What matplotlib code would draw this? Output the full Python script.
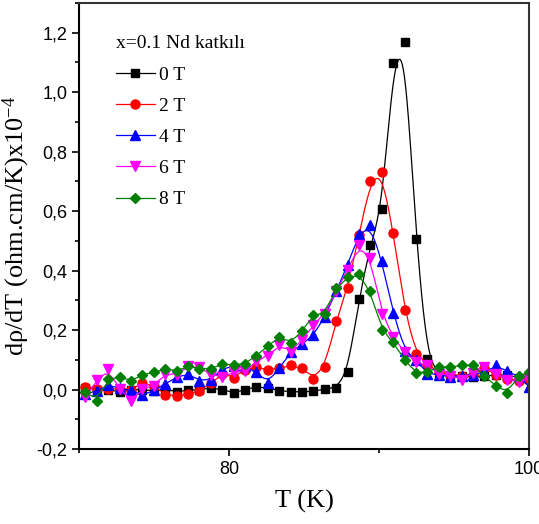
import numpy as np
import matplotlib
matplotlib.use("Agg")
import matplotlib.pyplot as plt
from matplotlib.lines import Line2D
from matplotlib.ticker import MultipleLocator, AutoMinorLocator, FuncFormatter

# ---------------- data ----------------
T = [70.43, 71.19, 71.95, 72.71, 73.47, 74.23, 74.99, 75.75, 76.51, 77.27,
     78.03, 78.79, 79.55, 80.31, 81.07, 81.83, 82.59, 83.35, 84.11, 84.87,
     85.63, 86.39, 87.15, 87.91, 88.67, 89.43, 90.19, 90.95, 91.71, 92.47,
     93.23, 93.99, 94.75, 95.51, 96.27, 97.03, 97.79, 98.55, 99.31, 100.0]

v0T = [0.005, 0.000, 0.000, -0.009, 0.000, 0.000, -0.005, 0.000, -0.007, -0.003,
       0.000, 0.005, 0.000, -0.012, 0.000, 0.010, 0.005, -0.004, -0.007, -0.008,
       -0.006, 0.002, 0.006, 0.058, 0.305, 0.487, 0.606, 1.099, 1.169, 0.505,
       0.102, 0.055, 0.050, 0.045, 0.042, 0.045, 0.050, 0.048, 0.040, 0.035]

v2T = [0.010, 0.003, 0.003, 0.002, 0.000, 0.022, 0.013, -0.017, -0.022, -0.015,
       -0.006, 0.022, 0.053, 0.040, 0.067, 0.075, 0.066, 0.072, 0.081, 0.072,
       0.037, 0.077, 0.232, 0.343, 0.520, 0.702, 0.732, 0.528, 0.268, 0.121,
       0.083, 0.060, 0.050, 0.047, 0.050, 0.073, 0.050, 0.036, 0.030, 0.035]

v4T = [-0.015, -0.005, 0.015, 0.005, -0.003, -0.020, -0.003, 0.019, 0.042, 0.053,
       0.030, 0.033, 0.070, 0.079, 0.078, 0.058, 0.022, 0.072, 0.125, 0.152,
       0.183, 0.245, 0.330, 0.420, 0.524, 0.552, 0.432, 0.258, 0.131, 0.098,
       0.053, 0.050, 0.042, 0.047, 0.050, 0.058, 0.081, 0.062, 0.044, 0.010]

v6T = [-0.026, 0.032, 0.068, 0.002, -0.040, 0.002, 0.013, 0.053, 0.050, 0.079,
       0.075, 0.050, 0.042, 0.058, 0.062, 0.095, 0.114, 0.150, 0.127, 0.166,
       0.218, 0.255, 0.330, 0.403, 0.485, 0.444, 0.255, 0.176, 0.125, 0.092,
       0.081, 0.053, 0.047, 0.033, 0.055, 0.077, 0.053, 0.033, 0.025, 0.036]

v8T = [-0.008, -0.037, 0.036, 0.043, 0.028, 0.050, 0.058, 0.070, 0.062, 0.079,
       0.070, 0.070, 0.086, 0.083, 0.087, 0.114, 0.146, 0.178, 0.156, 0.197,
       0.251, 0.255, 0.342, 0.377, 0.388, 0.330, 0.200, 0.159, 0.099, 0.055,
       0.058, 0.077, 0.075, 0.081, 0.084, 0.044, 0.013, -0.012, 0.047, 0.058]

labels = ["0 T", "2 T", "4 T", "6 T", "8 T"]
series = [v0T, v2T, v4T, v6T, v8T]
colors = ["#000000", "#FF0000", "#0000FF", "#FF00FF", "#008000"]
markers = ["s", "o", "^", "v", "D"]
msizes = [5.5, 6.5, 6.5, 6.5, 5.5]
legend_title = "x=0.1 Nd katkılı"
xlabel = "T (K)"
ylabel = r"d$\mathregular{\rho}$/dT (ohm.cm/K)x10$^{\mathregular{-4}}$"


def bspline(x, y, n=20):
    """Uniform cubic B-spline with the data points as control points (clamped ends)."""
    x = np.asarray(x, float)
    y = np.asarray(y, float)
    px = np.r_[x[0], x[0], x, x[-1], x[-1]]
    py = np.r_[y[0], y[0], y, y[-1], y[-1]]
    t = np.linspace(0, 1, n, endpoint=False)
    b0 = (1 - t) ** 3 / 6
    b1 = (3 * t ** 3 - 6 * t ** 2 + 4) / 6
    b2 = (-3 * t ** 3 + 3 * t ** 2 + 3 * t + 1) / 6
    b3 = t ** 3 / 6
    xs, ys = [], []
    for i in range(len(px) - 3):
        xs.append(b0 * px[i] + b1 * px[i + 1] + b2 * px[i + 2] + b3 * px[i + 3])
        ys.append(b0 * py[i] + b1 * py[i + 1] + b2 * py[i + 2] + b3 * py[i + 3])
    xs.append([x[-1]])
    ys.append([y[-1]])
    return np.concatenate(xs), np.concatenate(ys)


serif = ["Liberation Serif", "DejaVu Serif"]
sans = ["Liberation Sans", "DejaVu Sans"]
plt.rcParams["font.family"] = sans
plt.rcParams["mathtext.fontset"] = "custom"
plt.rcParams["mathtext.rm"] = "Liberation Serif"
plt.rcParams["mathtext.it"] = "Liberation Serif:italic"

fig = plt.figure(figsize=(5.39, 5.24), dpi=100)
ax = fig.add_axes([0.1466, 0.1431, 0.8348, 0.8512])

handles = []
for vals, lab, c, m, ms in zip(series, labels, colors, markers, msizes):
    sx, sy = bspline(T, vals)
    ax.plot(sx, sy, color=c, lw=0.9)
    ax.plot(T, vals, linestyle="none", marker=m, ms=ms, color=c, mec=c)
    handles.append(Line2D([], [], color=c, lw=0.9, marker=m, ms=ms, mec=c))

ax.set_xlim(70, 100)
ax.set_ylim(-0.2, 1.3)
ax.xaxis.set_major_locator(MultipleLocator(20))
ax.xaxis.set_minor_locator(AutoMinorLocator(2))
ax.yaxis.set_major_locator(MultipleLocator(0.2))
ax.yaxis.set_minor_locator(AutoMinorLocator(2))
ax.yaxis.set_major_formatter(FuncFormatter(lambda v, p: f"{v:.1f}".replace(".", ",")))
ax.xaxis.set_major_formatter(FuncFormatter(lambda v, p: f"{v:.0f}"))
ax.tick_params(which="both", direction="out", top=False, right=False, labelsize=13, width=1.2)
ax.tick_params(which="major", length=5)
ax.tick_params(which="minor", length=3)
for s in ["left", "bottom"]:
    ax.spines[s].set_linewidth(1.5)
    ax.spines[s].set_color("black")
for s in ["top", "right"]:
    ax.spines[s].set_linewidth(1.5)
    ax.spines[s].set_color("#333333")

ax.set_xlabel(xlabel, family=serif, fontsize=19, labelpad=9)
ax.set_ylabel(ylabel, family=serif, fontsize=19, labelpad=3)

leg = ax.legend(handles, labels, loc="upper left", bbox_to_anchor=(0.065, 0.945),
                frameon=False, title=legend_title, alignment="left",
                prop={"family": serif, "size": 14},
                title_fontproperties={"family": serif, "size": 14},
                handlelength=2.0, handletextpad=0.2, labelspacing=0.7,
                borderaxespad=0.0)

fig.savefig("out.png", dpi=100)
